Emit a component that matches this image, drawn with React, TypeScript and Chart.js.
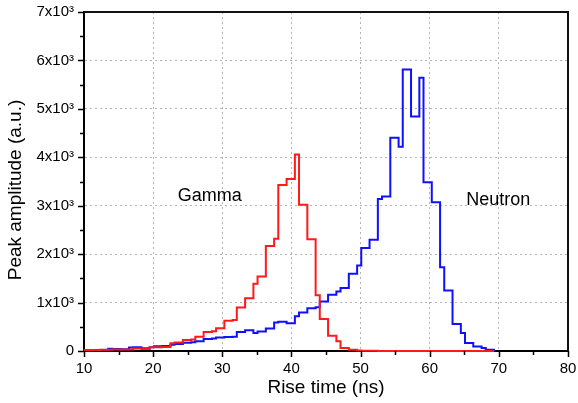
import React, { useEffect, useRef } from "react";
import { Chart, registerables } from "chart.js";

Chart.register(...registerables);

// Histogram bin edges (rise time, ns); both spectra share the same binning
const binEdges = [
  10.1, 11.1, 12.3, 13.5, 14.1, 15.3, 16.5, 17.1, 18.3, 19.5, 20.1, 21.3, 22.5, 23.1, 24.3,
  25.5, 26.1, 27.3, 28.5, 29.1, 30.3, 31.5, 32.1, 33.3, 34.5, 35.1, 36.3, 37.5, 38.1, 39.3,
  40.5, 41.1, 42.3, 43.5, 44.1, 45.3, 46.5, 47.1, 48.3, 49.5, 50.1, 51.3, 52.5, 53.1, 54.3,
  55.5, 56.1, 57.3, 58.5, 59.1, 60.3, 61.5, 62.1, 63.3, 64.5, 65.1, 66.3, 67.5, 68.1, 69.3,
];

// Gamma-ray events per bin
const gammaCounts = [
  20, 20, 25, 25, 30, 30, 30, 50, 40, 80, 80, 85, 160, 175, 225,
  235, 295, 390, 410, 470, 625, 640, 900, 1090, 1390, 1540, 2170, 2320, 3430, 3550,
  4060, 3020, 2310, 1150, 660, 315, 200, 60, 25, 10, 5, 3, 0, 0, 0,
  0, 0, 0, 0, 0, 0, 0, 0, 0, 0, 0, 0, 0, 0,
];

// Neutron events per bin
const neutronCounts = [
  15, 20, 20, 45, 40, 35, 70, 75, 55, 80, 100, 105, 130, 145, 170,
  180, 200, 250, 260, 280, 290, 295, 390, 430, 370, 405, 465, 590, 605, 575,
  715, 795, 885, 905, 1020, 1160, 1230, 1300, 1595, 1765, 2125, 2295, 3140, 3190, 4405,
  4220, 5815, 4840, 5640, 3485, 3070, 1730, 1250, 555, 370, 165, 95, 60, 25,
];

const xTicks = [10, 20, 30, 40, 50, 60, 70, 80];
const yTicks = [0, 1000, 2000, 3000, 4000, 5000, 6000, 7000];

// In-plot series captions, placed in data units
const gammaCaption = { text: "Gamma", x: 28.2, y: 3200 };
const neutronCaption = { text: "Neutron", x: 69.9, y: 3120 };

const yTitle = "Peak amplitude (a.u.)";
const xTitle = "Rise time (ns)";

const FONT = "Arial, 'Liberation Sans', sans-serif";

// Outline of a histogram: each count holds from its left edge to the next edge
function histogramPoints(edges: number[], counts: number[]) {
  const pts = [{ x: edges[0], y: 0 }];
  counts.forEach((c, i) => pts.push({ x: edges[i + 1], y: c }));
  pts.push({ x: edges[edges.length - 1], y: 0 });
  return pts;
}

function yTickLabel(v: number) {
  return v === 0 ? "0" : `${v / 1000}x10\u00B3`;
}

const framePlugin = {
  id: "frameAndTicks",
  afterDraw(chart: any) {
    const { ctx, chartArea, scales } = chart;
    const xs = scales.x;
    const ys = scales.y;
    ctx.save();
    ctx.strokeStyle = "#000";
    ctx.lineWidth = 1.5;
    // major and minor ticks pointing outward
    ctx.beginPath();
    for (let v = 10; v <= 80; v += 5) {
      const px = Math.round(xs.getPixelForValue(v)) + 0.5;
      const len = v % 10 === 0 ? 6 : 4;
      ctx.moveTo(px, chartArea.bottom);
      ctx.lineTo(px, chartArea.bottom + len);
    }
    for (let v = 0; v <= 7000; v += 500) {
      const py = Math.round(ys.getPixelForValue(v)) + 0.5;
      const len = v % 1000 === 0 ? 6 : 4;
      ctx.moveTo(chartArea.left, py);
      ctx.lineTo(chartArea.left - len, py);
    }
    ctx.stroke();
    // closing box on top and right
    ctx.lineWidth = 2;
    ctx.strokeStyle = "#111";
    ctx.beginPath();
    ctx.moveTo(chartArea.left, chartArea.top);
    ctx.lineTo(chartArea.right, chartArea.top);
    ctx.lineTo(chartArea.right, chartArea.bottom);
    ctx.stroke();
    // series captions
    ctx.fillStyle = "#000";
    ctx.font = `18px ${FONT}`;
    ctx.textAlign = "center";
    ctx.textBaseline = "middle";
    for (const c of [gammaCaption, neutronCaption]) {
      ctx.fillText(c.text, xs.getPixelForValue(c.x), ys.getPixelForValue(c.y));
    }
    // vertical axis title, set a little below the plot's mid-height
    ctx.font = `19px ${FONT}`;
    ctx.translate(16, 190);
    ctx.rotate(-Math.PI / 2);
    ctx.fillText(yTitle, 0, 0);
    ctx.restore();
  },
};

export default function App() {
  const canvasRef = useRef<HTMLCanvasElement | null>(null);

  useEffect(() => {
    const canvas = canvasRef.current;
    if (!canvas) return;
    const chart = new Chart(canvas, {
      type: "line",
      data: {
        datasets: [
          {
            label: "Gamma",
            data: histogramPoints(binEdges, gammaCounts),
            borderColor: "#ff1a1a",
            borderWidth: 2,
            stepped: "after",
            pointRadius: 0,
            fill: false,
            clip: 4,
          },
          {
            label: "Neutron",
            data: histogramPoints(binEdges, neutronCounts),
            borderColor: "#1010ff",
            borderWidth: 2,
            stepped: "after",
            pointRadius: 0,
            fill: false,
            clip: 4,
          },
        ],
      },
      options: {
        animation: false,
        responsive: false,
        devicePixelRatio: 1,
        layout: { padding: { top: 12, right: 10, left: 0, bottom: 0 } },
        plugins: {
          legend: { display: false },
          tooltip: { enabled: false },
        },
        scales: {
          x: {
            type: "linear",
            min: 10,
            max: 80,
            afterBuildTicks: (s: any) => {
              s.ticks = xTicks.map((v) => ({ value: v }));
            },
            afterFit: (s: any) => {
              s.height = 52;
              s.paddingLeft = 0;
              s.paddingRight = 0;
            },
            ticks: {
              color: "#000",
              font: { family: FONT, size: 15 },
              padding: 9,
              maxRotation: 0,
            },
            grid: {
              color: "#b4b4b4",
              lineWidth: 1,
              drawTicks: false,
            },
            border: { display: true, color: "#000", width: 2, dash: [2, 3] },
            title: {
              display: true,
              text: xTitle,
              color: "#000",
              font: { family: FONT, size: 19 },
              padding: { top: 0, bottom: 4 },
            },
          },
          y: {
            type: "linear",
            min: 0,
            max: 7000,
            afterBuildTicks: (s: any) => {
              s.ticks = yTicks.map((v) => ({ value: v }));
            },
            afterFit: (s: any) => {
              s.width = 84;
              s.paddingTop = 0;
              s.paddingBottom = 0;
            },
            ticks: {
              color: "#000",
              font: { family: FONT, size: 15 },
              padding: 10,
              callback: (v: any) => yTickLabel(Number(v)),
            },
            grid: {
              color: "#b4b4b4",
              lineWidth: 1,
              drawTicks: false,
            },
            border: { display: true, color: "#000", width: 2, dash: [2, 3] },
            title: { display: false },
          },
        },
      },
      plugins: [framePlugin],
    });
    return () => chart.destroy();
  }, []);

  return (
    <div style={{ position: "absolute", left: 0, top: 0, width: 578, height: 403, background: "#fff" }}>
      <canvas ref={canvasRef} width={578} height={403} />
    </div>
  );
}
